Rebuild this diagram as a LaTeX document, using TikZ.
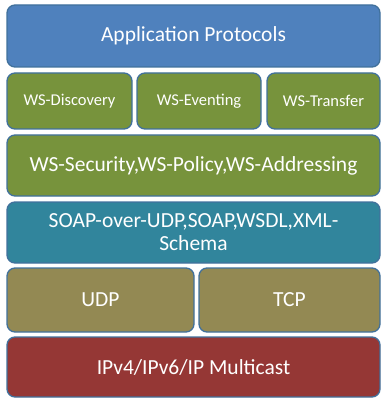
\documentclass[tikz,border=0pt]{standalone}
\usepackage{fontspec}
\setmainfont{Carlito}
\definecolor{appblue}{HTML}{4F81BD}
\definecolor{wsgreen}{HTML}{77933C}
\definecolor{soapteal}{HTML}{31859C}
\definecolor{tpolive}{HTML}{938953}
\definecolor{ipred}{HTML}{953735}
\definecolor{edgeblue}{HTML}{41719C}
\begin{document}
\begin{tikzpicture}[x=1pt,y=-1pt,
  layer/.style={draw=edgeblue, line width=1.3pt, rounded corners=8pt, text=white,
    inner sep=0pt, align=center, font=\fontsize{21.5}{24}\selectfont},
  small/.style={font=\fontsize{16.5}{19}\selectfont}]
\useasboundingbox (0,0) rectangle (381,398);
\node[layer, fill=appblue, minimum width=373pt, minimum height=62pt] (app) at (193.5,36) {Application Protocols};
\node[layer, small, fill=wsgreen, minimum width=125pt, minimum height=56pt] (disc) at (69.5,101) {WS-Discovery};
\node[layer, small, fill=wsgreen, minimum width=124pt, minimum height=56pt] (event) at (199,101) {WS-Eventing};
\node[layer, small, fill=wsgreen, minimum width=113pt, minimum height=56pt] (trans) at (323.5,101) {WS-Transfer};
\node[layer, fill=wsgreen, minimum width=373pt, minimum height=61pt] (sec) at (193.5,165.5) {WS-Security,WS-Policy,WS-Addressing};
\node[layer, fill=soapteal, minimum width=373pt, minimum height=61pt] (soap) at (193.5,232.5) {SOAP-over-UDP,SOAP,WSDL,XML-\\[-1pt]Schema};
\node[layer, fill=tpolive, minimum width=187pt, minimum height=64pt] (udp) at (100.5,300) {UDP};
\node[layer, fill=tpolive, minimum width=181pt, minimum height=64pt] (tcp) at (289.5,300) {TCP};
\node[layer, fill=ipred, minimum width=373pt, minimum height=60pt] (ip) at (193.5,367) {IPv4/IPv6/IP Multicast};
\end{tikzpicture}
\end{document}
